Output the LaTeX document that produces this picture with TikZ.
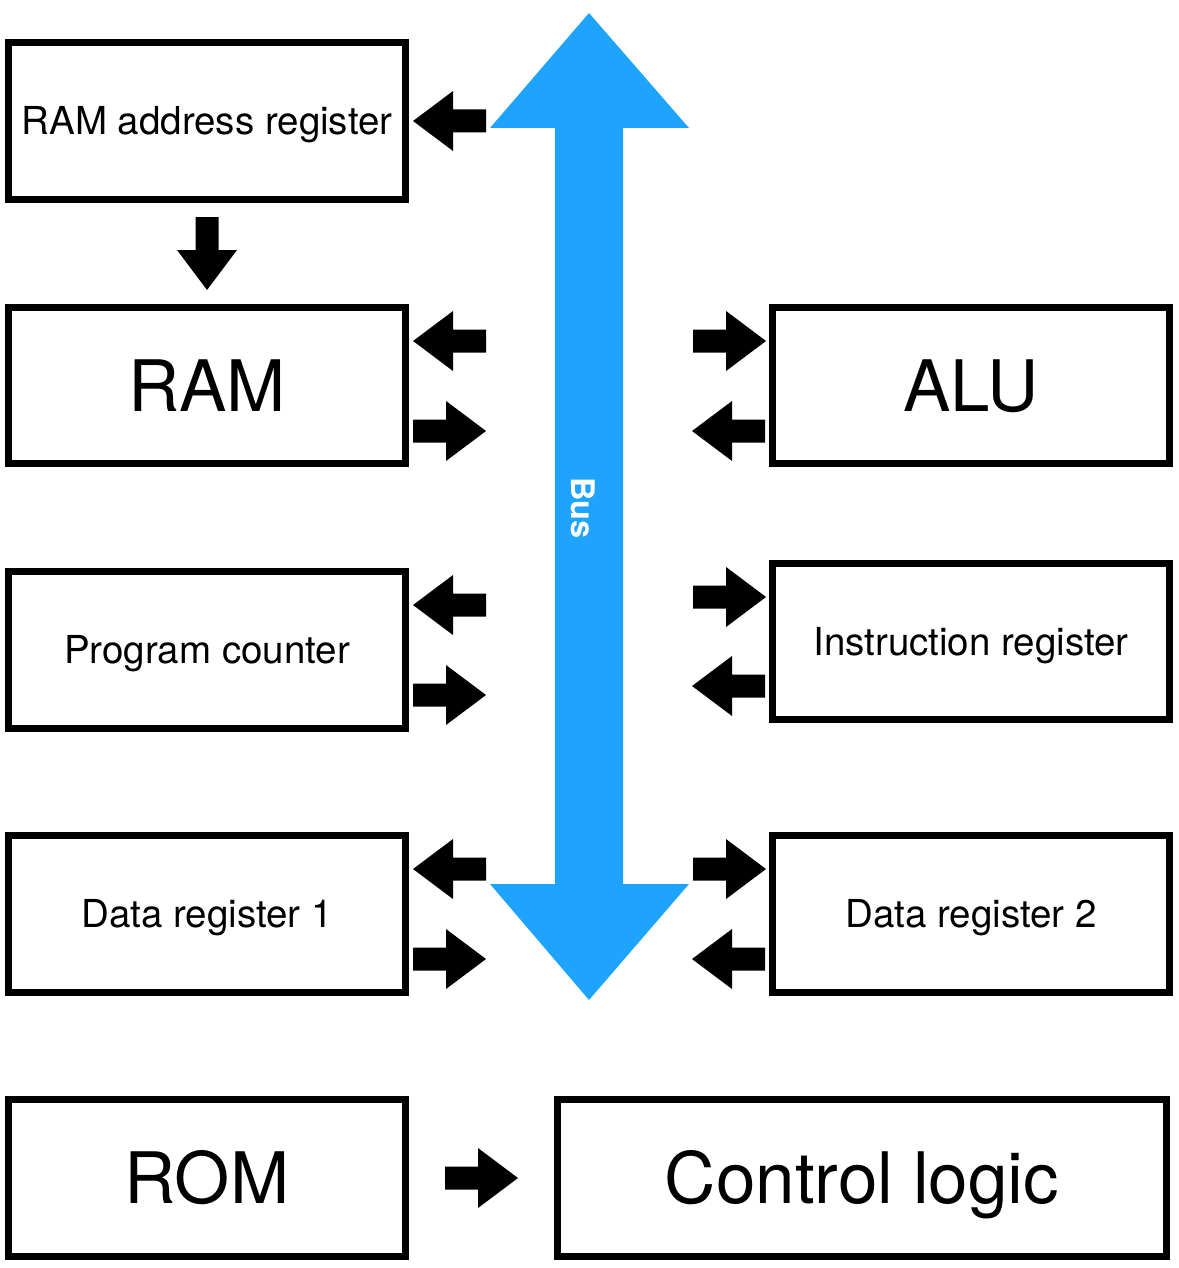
\documentclass[tikz,border=0pt]{standalone}
\usepackage{fontspec}
\setmainfont{TeX Gyre Heros}
\definecolor{busblue}{RGB}{30,164,253}
\begin{document}
\begin{tikzpicture}[x=1pt,y=-1pt,
  box/.style={draw=black, line width=7pt, inner sep=0pt, text depth=0pt, align=center},
  smalltext/.style={font=\fontsize{38.5}{40}\selectfont, text height=27.6pt},
  bigtext/.style={font=\fontsize{71}{74}\selectfont, text height=51pt},
  blk/.pic={\fill[black] (0,-11.5) -- (33,-11.5) -- (33,-30) -- (73,0) -- (33,30) -- (33,11.5) -- (0,11.5) -- cycle;}
]
\useasboundingbox (0,0) rectangle (1178,1268);

% bus
\fill[busblue] (589,13) -- (689,128) -- (623,128) -- (623,884) -- (689,884) -- (589,1000)
  -- (490,884) -- (555,884) -- (555,128) -- (490,128) -- cycle;
\node[text=white, rotate=-90, inner sep=0pt, text height=23.3pt, text depth=0pt,
  font=\fontsize{32.5}{34}\selectfont\bfseries] (buslabel) at (583,508) {Bus};

% left column
\node[box,smalltext,minimum width=397pt,minimum height=157pt] (rar) at (207,121) {RAM address register};
\node[box,bigtext,minimum width=397pt,minimum height=156pt] (ram) at (207,385.5) {RAM};
\node[box,smalltext,minimum width=397pt,minimum height=157pt] (pc) at (207,650) {Program counter};
\node[box,smalltext,minimum width=397pt,minimum height=157pt] (dr1) at (207,914) {Data register 1};
\node[box,bigtext,minimum width=397pt,minimum height=157pt] (rom) at (207,1178) {ROM};

% right column
\node[box,bigtext,minimum width=397pt,minimum height=156pt] (alu) at (971,385.5) {ALU};
\node[box,smalltext,minimum width=397pt,minimum height=156pt] (ir) at (971,641.5) {Instruction register};
\node[box,smalltext,minimum width=397pt,minimum height=157pt] (dr2) at (971,914) {Data register 2};
\node[box,bigtext,minimum width=609pt,minimum height=157pt] (cl) at (862,1178) {Control logic};

% arrows left column
\pic[rotate=180] at (486,121) {blk};
\pic[rotate=180] at (486,341) {blk};
\pic at (413,431) {blk};
\pic[rotate=180] at (486,605) {blk};
\pic at (413,695) {blk};
\pic[rotate=180] at (486,869) {blk};
\pic at (413,959) {blk};

% arrows right column
\pic at (693,341) {blk};
\pic[rotate=180] at (765,431) {blk};
\pic at (693,597) {blk};
\pic[rotate=180] at (765,686) {blk};
\pic at (693,869) {blk};
\pic[rotate=180] at (765,959) {blk};

% RAM address register -> RAM
\pic[rotate=-90] at (207,217) {blk};
% ROM -> Control logic
\pic at (445,1178) {blk};
\end{tikzpicture}
\end{document}
